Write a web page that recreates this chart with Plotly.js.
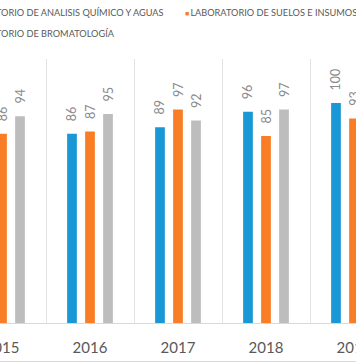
<!DOCTYPE html>
<html>
<head>
<meta charset="utf-8">
<script src="https://cdn.plot.ly/plotly-3.0.1.min.js"></script>
<style>
html,body{margin:0;padding:0;background:#fff;}
#chart{width:356px;height:364px;}
</style>
</head>
<body>
<div id="chart"></div>
<script>
var years = ['2015', '2016', '2017', '2018', '2019'];
var seriesNames = [
  'LABORATORIO DE ANALISIS QUÍMICO Y AGUAS',
  'LABORATORIO DE SUELOS E INSUMOS',
  'LABORATORIO DE BROMATOLOGÍA'
];
var quimicoAguas = [null, 86, 89, 96, 100];
var suelosInsumos = [86, 87, 97, 85, 93];
var bromatologia = [94, 95, 92, 97, null];
var colors = ['#1A98D6', '#F97D25', '#BDBDBD'];

var FONT = 'Lato, "Open Sans", sans-serif';
var seriesValues = [quimicoAguas, suelosInsumos, bromatologia];

var traces = seriesValues.map(function (vals, i) {
  return {
    type: 'bar',
    name: seriesNames[i],
    x: years,
    y: vals,
    marker: {color: colors[i]},
    text: vals.map(function (v) { return v === null ? '' : String(v); }),
    texttemplate: '\u00a0\u00a0\u00a0%{text}',
    textposition: 'outside',
    textangle: -90,
    constraintext: 'none',
    cliponaxis: true,
    textfont: {family: FONT, size: 12.5, color: '#8a8a8a'},
    showlegend: false,
    hoverinfo: 'skip'
  };
});

function legendText(i) {
  return '<span style="color:' + colors[i] + ';font-size:7px">■</span>\u2009' + seriesNames[i];
}

var plotH = 264, plotBottom = 323;
function py(p) { return (plotBottom - p) / plotH; }
function px(p) { return p / 356; }

var LEG = {family: FONT, size: 9.2, color: '#595959'};

var layout = {
  width: 356,
  height: 364,
  margin: {l: 0, r: 0, t: 59, b: 41, pad: 0},
  paper_bgcolor: '#ffffff',
  plot_bgcolor: '#ffffff',
  barmode: 'group',
  bargap: 0.386,
  bargroupgap: 0.46,
  showlegend: false,
  font: {family: FONT, color: '#595959'},
  xaxis: {
    type: 'category',
    range: [-2 / 88, 354 / 88],
    tickson: 'boundaries',
    ticks: '',
    showgrid: true,
    gridcolor: '#e3e3e3',
    gridwidth: 1,
    showline: true,
    linecolor: '#d9d9d9',
    linewidth: 1,
    zeroline: false,
    tickfont: {family: FONT, size: 15, color: '#595959'},
    ticklabelstandoff: 11,
    fixedrange: true
  },
  yaxis: {
    range: [0, 120],
    visible: false,
    fixedrange: true
  },
  annotations: [
    {text: legendText(0), xref: 'paper', yref: 'paper', x: px(-47), y: py(12.3),
     xanchor: 'left', yanchor: 'middle', showarrow: false, font: LEG},
    {text: legendText(1), xref: 'paper', yref: 'paper', x: px(182.5), y: py(12.3),
     xanchor: 'left', yanchor: 'middle', showarrow: false, font: LEG},
    {text: legendText(2), xref: 'paper', yref: 'paper', x: px(-47), y: py(33.8),
     xanchor: 'left', yanchor: 'middle', showarrow: false, font: LEG}
  ],
  shapes: [
    {type: 'line', xref: 'paper', yref: 'paper', x0: -0.1, x1: 1.1,
     y0: py(361.5), y1: py(361.5), line: {color: '#d9d9d9', width: 1}}
  ]
};

Plotly.newPlot('chart', traces, layout, {displayModeBar: false, staticPlot: true});
</script>
</body>
</html>
